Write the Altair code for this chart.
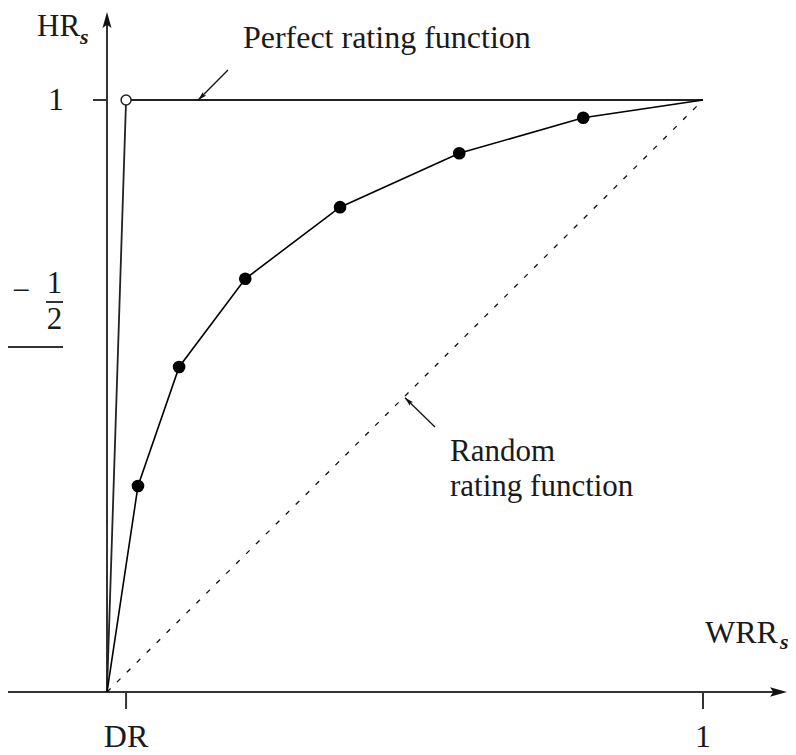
import altair as alt
import pandas as pd

# ---------------- data ----------------
DR = 0.032
curve_x = [0.0, 0.052, 0.121, 0.232, 0.391, 0.591, 0.799, 1.0]
curve_y = [0.0, 0.348, 0.549, 0.698, 0.819, 0.910, 0.970, 1.0]
perfect_x = [0.0, DR, 1.0]
perfect_y = [0.0, 1.0, 1.0]
random_x = [0.0, 1.0]
random_y = [0.0, 1.0]

x_tick_values = [DR, 1.0]
x_tick_labels = ["DR", "1"]
y_tick_values = [1.0]
y_tick_labels = ["1"]

X_DOMAIN = [-0.1661, 1.1426]
Y_DOMAIN = [-0.1030, 1.1554]

FONT = "Liberation Serif"
INK = "#1a1a1a"
AX = "#333333"

xs = alt.Scale(domain=X_DOMAIN, nice=False, zero=False)
ys = alt.Scale(domain=Y_DOMAIN, nice=False, zero=False)


def X(f="x"):
    return alt.X(f"{f}:Q", scale=xs, axis=None)


def Y(f="y"):
    return alt.Y(f"{f}:Q", scale=ys, axis=None)


# ---------------- tables ----------------
curve_df = pd.DataFrame({"x": curve_x, "y": curve_y, "i": range(len(curve_x))})
dots_df = curve_df.iloc[1:-1]
perfect_df = pd.DataFrame({"x": perfect_x, "y": perfect_y, "i": range(len(perfect_x))})
random_df = pd.DataFrame({"x": random_x, "y": random_y, "i": range(len(random_x))})

axes_df = pd.DataFrame({
    "x": [X_DOMAIN[0], 0.0],
    "y": [0.0, 0.0],
    "x2": [1.13, 0.0],
    "y2": [0.0, 1.135],
})
ticks_df = pd.DataFrame({
    "x": x_tick_values + [-0.0235],
    "y": [0.0, 0.0] + y_tick_values,
    "x2": x_tick_values + [0.0],
    "y2": [-0.0287, -0.0287] + y_tick_values,
})
pointer_df = pd.DataFrame({
    "x": [0.203, 0.5503],
    "y": [1.0507, 0.4476],
    "x2": [0.153, 0.5],
    "y2": [1.0, 0.497],
})
heads_df = pd.DataFrame({
    "x": [1.1409, 0.0, 0.153, 0.5],
    "y": [0.0, 1.1486, 1.0, 0.497],
    "a": [0, 270, 136, 224],
    "s": [1156, 1024, 324, 324],
})
frag_rules_df = pd.DataFrame({
    "x": [-0.1023, X_DOMAIN[0]],
    "y": [0.6588, 0.5828],
    "x2": [-0.0738, -0.0738],
    "y2": [0.6588, 0.5828],
})

labels_left_df = pd.DataFrame({
    "x": [0.228, 1.0034],
    "y": [1.0878, 0.0828],
    "t": ["Perfect rating function", "WRR"],
})
labels_random_df = pd.DataFrame({
    "x": [0.5755],
    "y": [0.3902],
    "t": ["Random\nrating function"],
})
labels_top_df = pd.DataFrame({
    "x": [-0.1174],
    "y": [1.1486],
    "t": ["HR"],
})
labels_center_df = pd.DataFrame({
    "x": x_tick_values + [-0.0856, -0.1443],
    "y": [-0.0929, -0.0929, 0.9831, 0.6605],
    "t": x_tick_labels + y_tick_labels + ["−"],
})
frac_df = pd.DataFrame({
    "x": [-0.0881],
    "y": [0.6740],
    "t": ["1\n2"],
})
subs_df = pd.DataFrame({
    "x": [-0.0453, 1.1292],
    "y": [1.0946, 0.0726],
    "t": ["s", "s"],
})

# ---------------- layers ----------------
axes = alt.Chart(axes_df).mark_rule(color=AX, strokeWidth=2).encode(
    x=X(), y=Y(), x2="x2:Q", y2="y2:Q")
ticks = alt.Chart(ticks_df).mark_rule(color=AX, strokeWidth=2).encode(
    x=X(), y=Y(), x2="x2:Q", y2="y2:Q")
heads = alt.Chart(heads_df).mark_point(
    shape="M0,0 L-1,-0.28 L-0.8,0 L-1,0.28 Z", filled=True, color="#111", opacity=1
).encode(x=X(), y=Y(), angle=alt.Angle("a:Q", scale=None), size=alt.Size("s:Q", scale=None))
pointers = alt.Chart(pointer_df).mark_rule(color="#111", strokeWidth=1.3).encode(
    x=X(), y=Y(), x2="x2:Q", y2="y2:Q")

random_line = alt.Chart(random_df).mark_line(
    color="#111", strokeWidth=1.3, strokeDash=[5, 9]
).encode(x=X(), y=Y(), order="i:Q")
perfect_line = alt.Chart(perfect_df).mark_line(color="#222", strokeWidth=1.8).encode(
    x=X(), y=Y(), order="i:Q")
perfect_pt = alt.Chart(perfect_df.iloc[[1]]).mark_point(
    shape="circle", filled=True, fill="white", stroke="#222", strokeWidth=1.5, size=100, opacity=1
).encode(x=X(), y=Y())
curve_line = alt.Chart(curve_df).mark_line(color="black", strokeWidth=1.6).encode(
    x=X(), y=Y(), order="i:Q")
curve_dots = alt.Chart(dots_df).mark_point(
    shape="circle", filled=True, color="black", size=160, opacity=1
).encode(x=X(), y=Y())

frag_rules = alt.Chart(frag_rules_df).mark_rule(color=AX, strokeWidth=2).encode(
    x=X(), y=Y(), x2="x2:Q", y2="y2:Q")

txt_left = alt.Chart(labels_left_df).mark_text(
    font=FONT, fontSize=32, color=INK, align="left", baseline="alphabetic"
).encode(x=X(), y=Y(), text="t:N")
txt_random = alt.Chart(labels_random_df).mark_text(
    font=FONT, fontSize=31, color=INK, align="left", baseline="alphabetic",
    lineBreak="\n", lineHeight=35
).encode(x=X(), y=Y(), text="t:N")
txt_top = alt.Chart(labels_top_df).mark_text(
    font=FONT, fontSize=31, color=INK, align="left", baseline="top"
).encode(x=X(), y=Y(), text="t:N")
txt_center = alt.Chart(labels_center_df).mark_text(
    font=FONT, fontSize=32, color=INK, align="center", baseline="alphabetic"
).encode(x=X(), y=Y(), text="t:N")
txt_frac = alt.Chart(frac_df).mark_text(
    font=FONT, fontSize=31, color=INK, align="center", baseline="alphabetic",
    lineBreak="\n", lineHeight=36
).encode(x=X(), y=Y(), text="t:N")
txt_sub = alt.Chart(subs_df).mark_text(
    font=FONT, fontSize=22, fontStyle="italic", fontWeight="bold", color=INK,
    align="left", baseline="alphabetic"
).encode(x=X(), y=Y(), text="t:N")

chart = alt.layer(
    axes, ticks, random_line, perfect_line, curve_line, curve_dots, perfect_pt,
    pointers, heads, frag_rules, txt_left, txt_random, txt_top, txt_center,
    txt_frac, txt_sub
).properties(
    width=780, height=745, padding=0,
    autosize=alt.AutoSizeParams(type="none"),
    background="white",
).configure_view(stroke=None)

chart.save("out.html", embed_options={"renderer": "svg", "actions": False})
